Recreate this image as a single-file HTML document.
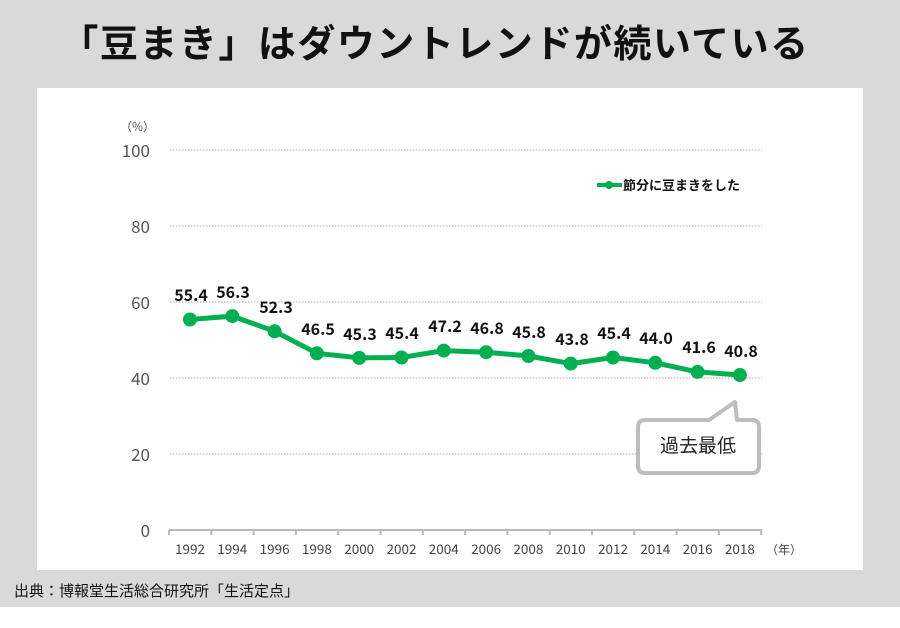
<!DOCTYPE html>
<html><head><meta charset="utf-8"><style>
body{margin:0;width:900px;height:623px;background:#fff;overflow:hidden;font-family:"Liberation Sans","Noto Sans CJK JP",sans-serif}
</style></head><body>
<svg width="900" height="623" xmlns="http://www.w3.org/2000/svg" font-family="Liberation Sans, Noto Sans CJK JP, sans-serif">
<rect x="0" y="0" width="900" height="607" fill="#d9d9d9"/>
<rect x="37" y="88" width="826" height="482" fill="#fff"/>
<text x="435" y="57" text-anchor="middle" font-size="38" font-weight="bold" fill="#111" letter-spacing="1.5" font-family="Noto Sans CJK JP, sans-serif">「豆まき」はダウントレンドが続いている</text>
<text x="14" y="596" font-size="15" fill="#111" font-family="Noto Sans CJK JP, sans-serif">出典：博報堂生活総合研究所「生活定点」</text>
<g stroke="#aaa" stroke-width="1" stroke-dasharray="1.5,1.5">
<line x1="170" y1="150" x2="762" y2="150"/><line x1="170" y1="226" x2="762" y2="226"/><line x1="170" y1="302" x2="762" y2="302"/><line x1="170" y1="378" x2="762" y2="378"/><line x1="170" y1="454" x2="762" y2="454"/>
</g>
<g stroke="#bbb" stroke-width="2"><line x1="169" y1="530" x2="762" y2="530"/>
<path d="M169 530v5M211.3 530v5M253.6 530v5M295.9 530v5M338.2 530v5M380.5 530v5M422.8 530v5M465.1 530v5M507.4 530v5M549.7 530v5M592 530v5M634.3 530v5M676.6 530v5M718.9 530v5M761.2 530v5"/></g>
<g font-size="17" fill="#555" text-anchor="end" font-family="Noto Sans CJK JP, sans-serif">
<text x="150" y="157">100</text><text x="150" y="233">80</text><text x="150" y="309">60</text><text x="150" y="385">40</text><text x="150" y="461">20</text><text x="150" y="537">0</text></g>
<text x="120" y="131" font-size="12" fill="#555" font-family="Noto Sans CJK JP, sans-serif">（%）</text>
<g font-size="13.5" fill="#444" text-anchor="middle" font-family="Noto Sans CJK JP, sans-serif">
<text x="190" y="554">1992</text><text x="232.3" y="554">1994</text><text x="274.6" y="554">1996</text><text x="316.9" y="554">1998</text><text x="359.2" y="554">2000</text><text x="401.5" y="554">2002</text><text x="443.8" y="554">2004</text><text x="486.1" y="554">2006</text><text x="528.4" y="554">2008</text><text x="570.7" y="554">2010</text><text x="613" y="554">2012</text><text x="655.3" y="554">2014</text><text x="697.6" y="554">2016</text><text x="739.9" y="554">2018</text></g>
<text x="766" y="554" font-size="12" fill="#444" font-family="Noto Sans CJK JP, sans-serif">（年）</text>
<polyline fill="none" stroke="#00b050" stroke-width="5" stroke-linejoin="round" points="190,319.5 232.3,316.1 274.6,331.3 316.9,353.3 359.2,357.9 401.5,357.5 443.8,350.6 486.1,352.2 528.4,356 570.7,363.6 613,357.5 655.3,362.8 697.6,371.9 739.9,375"/>
<g fill="#00b050">
<circle cx="190" cy="319.5" r="7"/><circle cx="232.3" cy="316.1" r="7"/><circle cx="274.6" cy="331.3" r="7"/><circle cx="316.9" cy="353.3" r="7"/><circle cx="359.2" cy="357.9" r="7"/><circle cx="401.5" cy="357.5" r="7"/><circle cx="443.8" cy="350.6" r="7"/><circle cx="486.1" cy="352.2" r="7"/><circle cx="528.4" cy="356" r="7"/><circle cx="570.7" cy="363.6" r="7"/><circle cx="613" cy="357.5" r="7"/><circle cx="655.3" cy="362.8" r="7"/><circle cx="697.6" cy="371.9" r="7"/><circle cx="739.9" cy="375" r="7"/></g>
<g font-size="16" font-weight="bold" fill="#111" text-anchor="middle" font-family="Noto Sans CJK JP, sans-serif">
<text x="191" y="301">55.4</text><text x="233" y="298">56.3</text><text x="276" y="313">52.3</text><text x="318" y="335">46.5</text><text x="360" y="340">45.3</text><text x="402" y="339">45.4</text><text x="445" y="332">47.2</text><text x="487" y="334">46.8</text><text x="529" y="338">45.8</text><text x="572" y="345">43.8</text><text x="614" y="339">45.4</text><text x="656" y="344">44.0</text><text x="699" y="353">41.6</text><text x="741" y="357">40.8</text></g>
<line x1="597" y1="185" x2="622" y2="185" stroke="#00b050" stroke-width="4"/><circle cx="609" cy="185" r="4" fill="#00b050"/>
<text x="623" y="190" font-size="13" font-weight="bold" fill="#111" font-family="Noto Sans CJK JP, sans-serif">節分に豆まきをした</text>
<path d="M645 420 H709 L735 402 L737 420 H752 Q759 420 759 427 V466 Q759 473 752 473 H645 Q638 473 638 466 V427 Q638 420 645 420 Z" fill="#fff" stroke="#bdbdbd" stroke-width="4" stroke-linejoin="round"/>
<text x="698" y="452" text-anchor="middle" font-size="19" fill="#222" font-family="Noto Sans CJK JP, sans-serif">過去最低</text>
</svg>
</body></html>
